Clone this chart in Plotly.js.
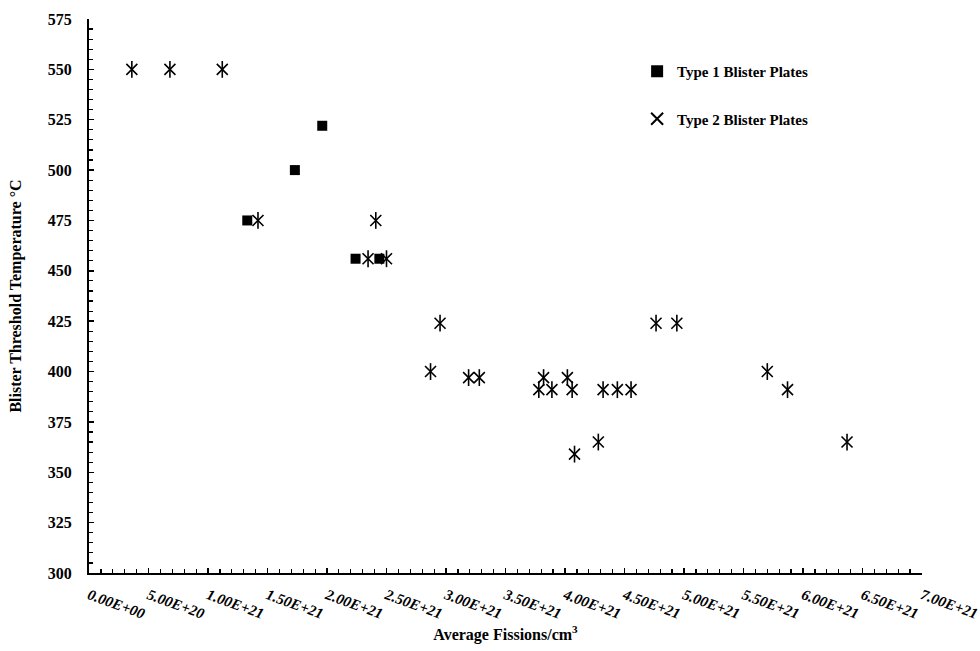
<!DOCTYPE html>
<html>
<head>
<meta charset="utf-8">
<script src="https://cdn.plot.ly/plotly-3.0.1.min.js"></script>
<style>
  html, body { margin: 0; padding: 0; background: #ffffff; }
  #chart { width: 980px; height: 651px; }
</style>
</head>
<body>
<div id="chart"></div>
<script>
// Type 1 blister plates: fission density (fissions/cm3) vs threshold temperature (C)
const type1Fissions = [1.33e21, 1.73e21, 1.96e21, 2.24e21, 2.44e21];
const type1Temps    = [475, 500, 522, 456, 456];

// Type 2 blister plates
const type2Fissions = [
  0.36e21, 0.68e21, 1.12e21, 1.42e21, 2.41e21, 2.345e21, 2.50e21,
  2.87e21, 2.95e21, 3.19e21, 3.28e21, 3.82e21, 4.02e21,
  3.78e21, 3.89e21, 4.06e21, 4.32e21, 4.44e21, 4.555e21,
  4.08e21, 4.28e21, 4.765e21, 4.94e21, 5.70e21, 5.87e21, 6.37e21
];
const type2Temps = [
  550, 550, 550, 475, 475, 456, 456,
  400, 424, 397, 397, 397, 397,
  391, 391, 391, 391, 391, 391,
  359, 365, 424, 424, 400, 391, 365
];

// Axis ticks
const xTickVals = [0, 5e20, 1e21, 1.5e21, 2e21, 2.5e21, 3e21, 3.5e21, 4e21, 4.5e21, 5e21, 5.5e21, 6e21, 6.5e21, 7e21];
const xTickText = ["0.00E+00", "5.00E+20", "1.00E+21", "1.50E+21", "2.00E+21", "2.50E+21", "3.00E+21",
                   "3.50E+21", "4.00E+21", "4.50E+21", "5.00E+21", "5.50E+21", "6.00E+21", "6.50E+21", "7.00E+21"];
const yTickVals = [300, 325, 350, 375, 400, 425, 450, 475, 500, 525, 550, 575];

const serif = "Liberation Serif, Times New Roman, serif";

const traces = [
  {
    x: type1Fissions, y: type1Temps,
    type: "scatter", mode: "markers",
    name: "Type 1 Blister Plates",
    legendgroup: "t1",
    marker: { symbol: "square", size: 10, color: "#000000" },
    hoverinfo: "x+y"
  },
  {
    x: type2Fissions, y: type2Temps,
    type: "scatter", mode: "markers",
    name: "Type 2 Blister Plates",
    legendgroup: "t2",
    marker: { symbol: "x-thin-open", size: 11, color: "#000000", line: { color: "#000000", width: 1.6 } },
    hoverinfo: "x+y"
  },
  {
    // vertical stroke that completes the six-armed asterisk
    x: type2Fissions, y: type2Temps,
    type: "scatter", mode: "markers",
    name: "Type 2 Blister Plates",
    legendgroup: "t2",
    showlegend: false,
    marker: { symbol: "line-ns-open", size: 12, color: "#000000", line: { color: "#000000", width: 1.6 } },
    hoverinfo: "skip"
  }
];

const layout = {
  width: 980, height: 651,
  paper_bgcolor: "#ffffff", plot_bgcolor: "#ffffff",
  margin: { l: 89, r: 58, t: 19, b: 78, autoexpand: false },
  font: { family: serif, color: "#000000" },
  showlegend: true,
  legend: {
    x: 0.658, y: 0.935, xanchor: "left", yanchor: "top",
    font: { family: serif, size: 15, weight: "bold", color: "#000000" },
    bgcolor: "rgba(0,0,0,0)",
    tracegroupgap: 25,
    itemsizing: "constant",
    itemclick: false, itemdoubleclick: false
  },
  xaxis: {
    range: [0, 7e21], autorange: false, automargin: false,
    tickmode: "array", tickvals: xTickVals, ticktext: xTickText,
    tickangle: 20,
    ticklabeloverflow: "allow",
    tickfont: { family: serif, size: 15, weight: "bold", style: "italic", color: "#000000" },
    ticks: "inside", ticklen: 5, tickwidth: 1.5, tickcolor: "#000000",
    minor: { dtick: 1e20, ticks: "inside", ticklen: 4, tickwidth: 1.2, tickcolor: "#000000", showgrid: false },
    showline: true, linecolor: "#000000", linewidth: 2,
    showgrid: false, zeroline: false,
    ticklabelstandoff: 6,
    title: { text: "Average Fissions/cm<sup>3</sup>", font: { family: serif, size: 16, weight: "bold", color: "#000000" }, standoff: 8 }
  },
  yaxis: {
    range: [300, 575], autorange: false, automargin: false,
    tickmode: "array", tickvals: yTickVals,
    tickfont: { family: serif, size: 16, weight: "bold", color: "#000000" },
    ticks: "inside", ticklen: 5, tickwidth: 1.5, tickcolor: "#000000",
    minor: { dtick: 5, ticks: "inside", ticklen: 4, tickwidth: 1.2, tickcolor: "#000000", showgrid: false },
    showline: true, linecolor: "#000000", linewidth: 2,
    showgrid: false, zeroline: false,
    ticklabelstandoff: 12,
    title: { text: "Blister Threshold Temperature °C", font: { family: serif, size: 16, weight: "bold", color: "#000000" }, standoff: 22 }
  }
};

Plotly.newPlot("chart", traces, layout, { displayModeBar: false, staticPlot: true });
</script>
</body>
</html>
